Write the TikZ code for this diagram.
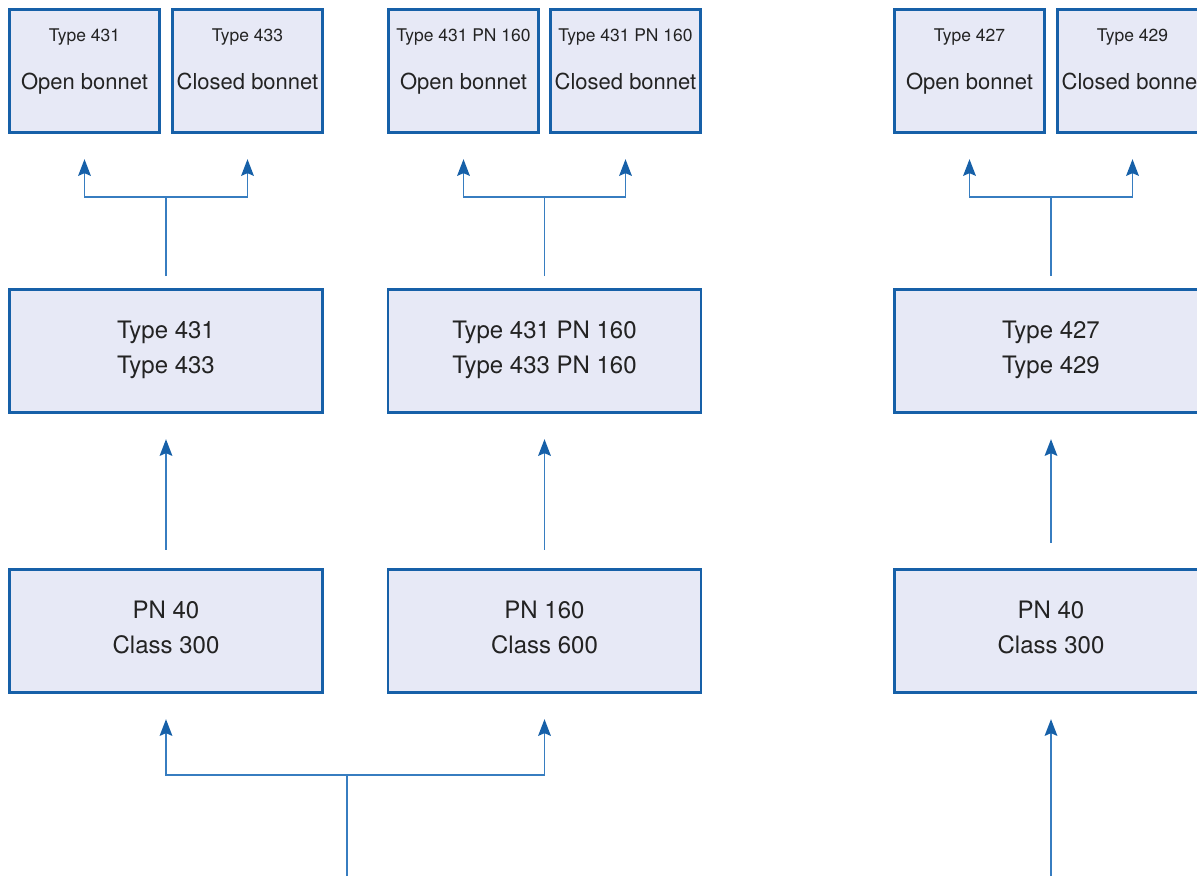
\documentclass[tikz,border=0pt]{standalone}
\usepackage{fontspec}
\setmainfont{TeX Gyre Heros}
\usetikzlibrary{arrows.meta}
\definecolor{boxline}{RGB}{22,96,168}
\definecolor{boxfill}{RGB}{231,233,246}
\definecolor{wireblue}{RGB}{55,125,192}
\definecolor{inkgray}{RGB}{35,35,35}

\begin{document}
\begin{tikzpicture}[x=0.75pt,y=-0.75pt,
    box/.style={draw=boxline,fill=boxfill,line width=2pt,inner sep=0pt,align=center,text=inkgray},
    bigbox/.style={box,minimum width=234.75pt,minimum height=92.25pt,text depth=5pt,font=\fontsize{18}{26.25}\selectfont},
    smallbox/.style={box,minimum width=112.5pt,minimum height=92.25pt},
    typetxt/.style={anchor=base,text=inkgray,font=\fontsize{13.1}{15}\selectfont},
    kindtxt/.style={anchor=base,text=inkgray,font=\fontsize{16.5}{19}\selectfont},
    wire/.style={draw=wireblue,line width=1.3pt},
    tip/.style={-{Stealth[length=12.5pt,width=9.5pt,inset=2pt,color=boxline]},shorten >=19pt},
  ]
  \useasboundingbox (0,0) rectangle (1197,876);

  % bonnet variants
  \node[smallbox] (o431) at (84.5,71) {};
  \node[smallbox] (c433) at (247.5,71) {};
  \node[smallbox] (o431pn) at (463.5,71) {};
  \node[smallbox] (c431pn) at (625.5,71) {};
  \node[smallbox] (o427) at (969.5,71) {};
  \node[smallbox] (c429) at (1132.5,71) {};
  \foreach \n/\t/\k in {o431/Type 431/Open bonnet, c433/Type 433/Closed bonnet,
      o431pn/Type 431 PN 160/Open bonnet, c431pn/Type 431 PN 160/Closed bonnet,
      o427/Type 427/Open bonnet, c429/Type 429/Closed bonnet} {
    \node[typetxt] (\n-t) at ([yshift=-25.1pt]\n.north) {\t};
    \node[kindtxt] (\n-k) at ([yshift=-61.1pt]\n.north) {\k};
  }

  % valve types
  \node[bigbox] (t431) at (166,351) {Type 431\\Type 433};
  \node[bigbox] (t431pn) at (544.5,351) {Type 431 PN 160\\Type 433 PN 160};
  \node[bigbox] (t427) at (1051,351) {Type 427\\Type 429};

  % pressure ratings
  \node[bigbox] (pn40) at (166,631) {PN 40\\Class 300};
  \node[bigbox] (pn160) at (544.5,631) {PN 160\\Class 600};
  \node[bigbox] (pn40r) at (1051,631) {PN 40\\Class 300};

  \coordinate (k1) at (166,197);
  \coordinate (k2) at (544.5,197);
  \coordinate (k3) at (1051,197);
  \coordinate (kb) at (347,775);
  \coordinate (in1) at (347,876);
  \coordinate (in2) at (1051,876);

  \draw[wire,shorten <=9pt] (t431) -- (k1);
  \draw[wire,tip] (k1) -| (o431);
  \draw[wire,tip] (k1) -| (c433);
  \draw[wire,shorten <=9pt] (t431pn) -- (k2);
  \draw[wire,tip] (k2) -| (o431pn);
  \draw[wire,tip] (k2) -| (c431pn);
  \draw[wire,shorten <=9pt] (t427) -- (k3);
  \draw[wire,tip] (k3) -| (o427);
  \draw[wire,tip] (k3) -| (c429);

  \draw[wire,tip,shorten <=13.9pt] (pn40) -- (t431);
  \draw[wire,tip,shorten <=13.9pt] (pn160) -- (t431pn);
  \draw[wire,tip,shorten <=19pt] (pn40r) -- (t427);

  \draw[wire] (in1) -- (kb);
  \draw[wire,tip] (kb) -| (pn40);
  \draw[wire,tip] (kb) -| (pn160);
  \draw[wire,tip] (in2) -- (pn40r);
\end{tikzpicture}
\end{document}
